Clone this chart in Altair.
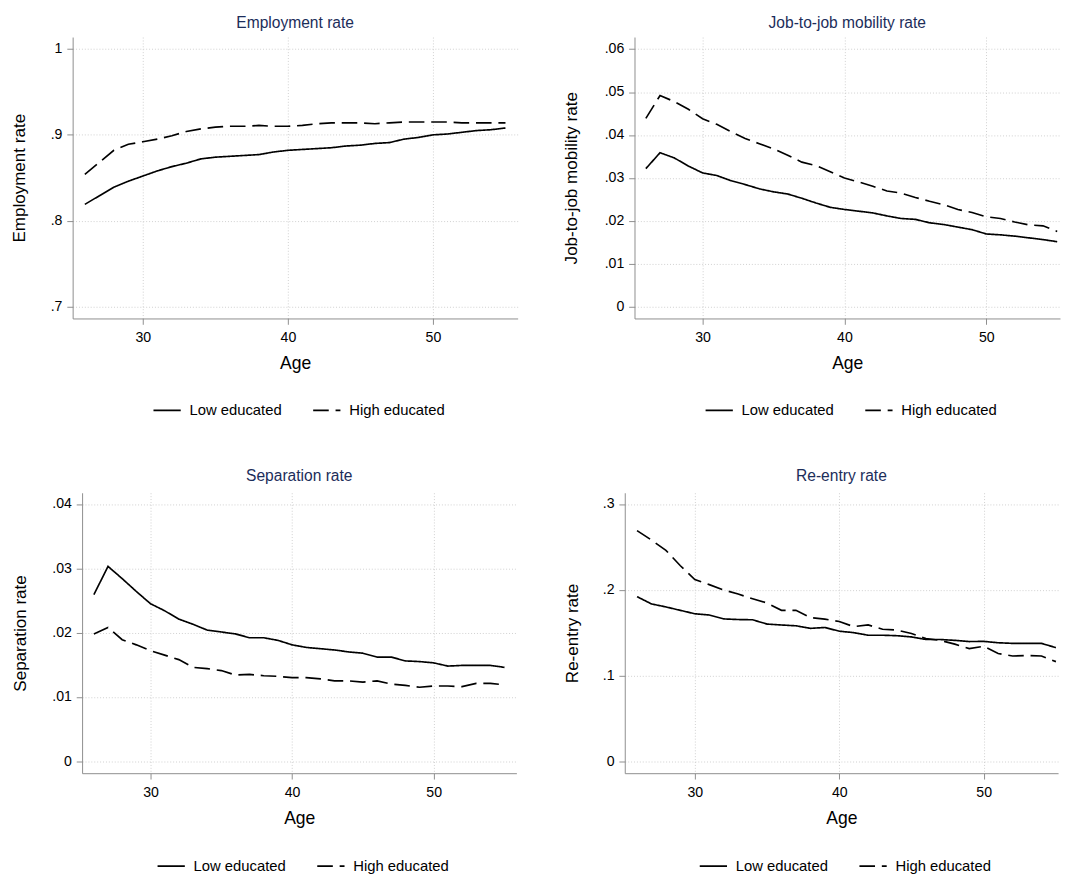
import altair as alt
import pandas as pd

ages = list(range(26, 56))
groups = ["Low educated", "High educated"]

emp_low = [0.819, 0.829, 0.839, 0.846, 0.852, 0.858, 0.863, 0.867, 0.872, 0.874,
           0.875, 0.876, 0.877, 0.880, 0.882, 0.883, 0.884, 0.885, 0.887, 0.888,
           0.890, 0.891, 0.895, 0.897, 0.900, 0.901, 0.903, 0.905, 0.906, 0.908]
emp_high = [0.854, 0.868, 0.882, 0.889, 0.892, 0.895, 0.899, 0.904, 0.907, 0.909,
            0.910, 0.910, 0.911, 0.910, 0.910, 0.911, 0.913, 0.914, 0.914, 0.914,
            0.913, 0.914, 0.915, 0.915, 0.915, 0.915, 0.914, 0.914, 0.914, 0.914]

jj_low = [0.0322, 0.0359, 0.0347, 0.0328, 0.0312, 0.0306, 0.0294, 0.0285, 0.0275, 0.0268,
          0.0263, 0.0253, 0.0242, 0.0232, 0.0227, 0.0223, 0.0219, 0.0212, 0.0206, 0.0204,
          0.0196, 0.0192, 0.0186, 0.0180, 0.0170, 0.0168, 0.0165, 0.0161, 0.0157, 0.0152]
jj_high = [0.0439, 0.0492, 0.0478, 0.0460, 0.0438, 0.0425, 0.0408, 0.0392, 0.0380, 0.0368,
           0.0353, 0.0337, 0.0329, 0.0315, 0.0300, 0.0291, 0.0281, 0.0270, 0.0265, 0.0255,
           0.0246, 0.0238, 0.0227, 0.0220, 0.0210, 0.0206, 0.0198, 0.0191, 0.0189, 0.0176]

sep_low = [0.0259, 0.0303, 0.0284, 0.0264, 0.0245, 0.0234, 0.0221, 0.0213, 0.0204, 0.0201,
           0.0198, 0.0192, 0.0192, 0.0188, 0.0181, 0.0177, 0.0175, 0.0173, 0.0170, 0.0168,
           0.0162, 0.0162, 0.0156, 0.0155, 0.0153, 0.0148, 0.0149, 0.0149, 0.0149, 0.0146]
sep_high = [0.0198, 0.0208, 0.0189, 0.0181, 0.0172, 0.0165, 0.0158, 0.0146, 0.0144, 0.0141,
            0.0134, 0.0135, 0.0133, 0.0132, 0.0130, 0.0130, 0.0128, 0.0125, 0.0125, 0.0123,
            0.0125, 0.0120, 0.0118, 0.0115, 0.0117, 0.0117, 0.0116, 0.0121, 0.0121, 0.0119]

re_low = [0.192, 0.1835, 0.180, 0.176, 0.172, 0.1706, 0.166, 0.1653, 0.165, 0.160,
          0.1589, 0.158, 0.155, 0.156, 0.1517, 0.150, 0.147, 0.147, 0.1464, 0.145,
          0.142, 0.142, 0.141, 0.1396, 0.1398, 0.1382, 0.1375, 0.1375, 0.1375, 0.1325]
re_high = [0.269, 0.258, 0.246, 0.228, 0.212, 0.206, 0.1998, 0.195, 0.1896, 0.1846,
           0.176, 0.176, 0.1676, 0.1657, 0.163, 0.157, 0.159, 0.154, 0.153, 0.149,
           0.143, 0.141, 0.1366, 0.1314, 0.134, 0.1257, 0.1227, 0.1234, 0.1227, 0.1162]

x_ticks = [30, 40, 50]

FONT = "Liberation Sans"
TITLE_COLOR = "#1c2d5a"
AXIS_COLOR = "#8c8c8c"
GRID_COLOR = "#cfcfcf"
LEGEND_W = 293

LABEL_EXPR = ("datum.value == 0 || datum.value >= 1 ? format(datum.value, '~g') "
              ": substring(format(datum.value, '~g'), 1)")


def make_panel(title, low, high, ydomain, yticks, xdomain, width, height, yextent,
               title_offset, shift=0.0):
    df = pd.DataFrame({
        "Age": ages + ages,
        "value": low + high,
        "group": [groups[0]] * len(ages) + [groups[1]] * len(ages),
    })
    total_w = width + shift
    if shift:
        xscale = alt.Scale(domain=xdomain, nice=False, zero=False,
                           range=[shift, width + shift])
    else:
        xscale = alt.Scale(domain=xdomain, nice=False, zero=False)
    yaxis_kw = {"offset": -shift} if shift else {}
    title_kw = {"dx": shift / 2} if shift else {}
    return alt.Chart(df, title=alt.Title(
        title, fontSize=16, font=FONT, color=TITLE_COLOR, fontWeight="normal",
        anchor="middle", frame="group", baseline="alphabetic", offset=title_offset,
        **title_kw,
    )).mark_line(color="black", strokeWidth=1.7).encode(
        x=alt.X("Age:Q", scale=xscale,
                axis=alt.Axis(values=x_ticks, title="Age", format="d",
                              tickSize=6, labelPadding=7, labelFontSize=14.5,
                              titleFontSize=18, titlePadding=11)),
        y=alt.Y("value:Q",
                scale=alt.Scale(domain=ydomain, nice=False, zero=False),
                axis=alt.Axis(values=yticks, title=title, labelExpr=LABEL_EXPR,
                              tickSize=6, labelPadding=5, labelFontSize=14.5,
                              minExtent=yextent, maxExtent=yextent,
                              titleFontSize=17.5, titlePadding=22.5, **yaxis_kw)),
        strokeDash=alt.StrokeDash(
            "group:N",
            scale=alt.Scale(domain=groups, range=[[1, 0], [16, 7]]),
            legend=alt.Legend(
                title=None, orient="none", direction="horizontal",
                legendX=shift + (width - LEGEND_W) / 2, legendY=368,
                symbolType="stroke", symbolSize=784, symbolStrokeWidth=1.7,
                symbolStrokeColor="black", labelFontSize=15.2, labelOffset=8,
                columnPadding=28, labelFont=FONT, labelColor="black",
            ),
        ),
    ).properties(width=total_w, height=height)


p1 = make_panel("Employment rate", emp_low, emp_high, [0.686, 1.014],
                [0.7, 0.8, 0.9, 1.0], [25.16, 55.84], 457, 289, 23, -6.5)
p2 = make_panel("Job-to-job mobility rate", jj_low, jj_high, [-0.00265, 0.0628],
                [0, 0.01, 0.02, 0.03, 0.04, 0.05, 0.06], [25.2, 55.2], 437, 289, 33, -6.5)
p3 = make_panel("Separation rate", sep_low, sep_high, [-0.00186, 0.04175],
                [0, 0.01, 0.02, 0.03, 0.04], [25.17, 55.84], 446, 288, 32, -4, shift=9.7)
p4 = make_panel("Re-entry rate", re_low, re_high, [-0.014, 0.3132],
                [0, 0.1, 0.2, 0.3], [25.15, 55.15], 445, 288, 22, -4)

top = alt.hconcat(p1, p2, spacing=46).resolve_scale(
    strokeDash="independent").resolve_legend(strokeDash="independent")
bottom = alt.hconcat(p3, p4, spacing=48).resolve_scale(
    strokeDash="independent").resolve_legend(strokeDash="independent")

chart = alt.vconcat(top, bottom, spacing=51).resolve_scale(
    strokeDash="independent").resolve_legend(strokeDash="independent").properties(
    padding={"left": 2.4, "top": -5, "right": 0, "bottom": 0},
    background="white",
).configure(font=FONT).configure_view(stroke=None).configure_axis(
    domainColor=AXIS_COLOR, tickColor=AXIS_COLOR, domainWidth=1, tickWidth=1,
    gridColor=GRID_COLOR, gridDash=[1, 2], gridWidth=1,
    labelColor="black", titleColor="black", labelFont=FONT, titleFont=FONT,
    titleFontWeight="normal",
)

chart.save("out.html", embed_options={"renderer": "svg", "actions": False})
